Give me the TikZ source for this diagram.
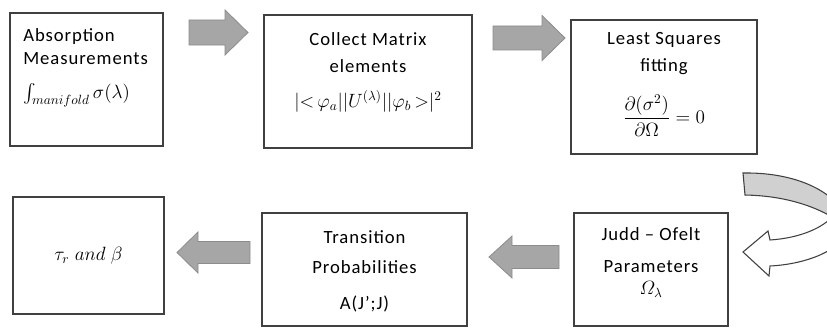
\documentclass[tikz,border=0pt]{standalone}
\usepackage{amsmath}
\usepackage{amssymb}
\usepackage{fontspec}
\setmainfont{Carlito}[LetterSpace=5]
\usepackage{tikz}
\usepackage{xcolor}
\usetikzlibrary{calc}
\definecolor{boxline}{HTML}{404040}
\definecolor{arrowgray}{HTML}{A6A6A6}
\definecolor{arrowedge}{HTML}{8C8C8C}
\definecolor{turngray}{HTML}{D0D0D0}

% box contents: width, height, top padding, text
\newcommand{\boxtext}[4]{\parbox[c][#2][t]{#1}{\vspace*{#3}#4}}

% block arrow: start, tip, half shaft, half head, head length
\newcommand{\blockarrow}[5]{%
  \coordinate (hb) at ($(#2)!#5!(#1)$);
  \draw[blockarr] ($(#1)!#3!90:(#2)$) -- ($(hb)!#3!90:(#2)$) -- ($(hb)!#4!90:(#2)$) -- (#2)
    -- ($(hb)!#4!-90:(#2)$) -- ($(hb)!#3!-90:(#2)$) -- ($(#1)!#3!-90:(#2)$) -- cycle;
}

\begin{document}
\begin{tikzpicture}[x=0.75pt, y=-0.75pt,
  box/.style={draw=boxline, line width=1pt, inner sep=0pt},
  blockarr/.style={fill=arrowgray, draw=arrowedge, line width=0.6pt},
  uturn/.style={draw=boxline, line width=0.8pt}
]
\useasboundingbox (0,0) rectangle (827,328);

% top row
\node[box] (absorb) at (86.5,79.5) {\boxtext{114.75pt}{99.75pt}{12pt}{%
  \fontsize{14}{17.25}\selectfont\raggedright\leftskip=10pt
  Absorption\\Measurements\\[8pt]$\int_{manifold}\sigma(\lambda)$}};
\node[box] (collect) at (368,81.5) {\boxtext{156pt}{99.75pt}{13pt}{%
  \fontsize{14}{20.25}\selectfont\centering
  Collect Matrix\\elements\\[6pt]$|{<}\,\varphi_a||U^{(\lambda)}||\varphi_b\,{>}|^2$}};
\node[box] (lsq) at (664,87) {\boxtext{139.5pt}{100.5pt}{9.25pt}{%
  \fontsize{14}{20.25}\selectfont\centering
  Least Squares\\fitting\\[14pt]$\dfrac{\partial(\sigma^2)}{\partial\Omega}=0$}};

% bottom row
\node[box] (judd) at (651,269.5) {\boxtext{115.5pt}{84.75pt}{10.75pt}{%
  \fontsize{14}{24}\selectfont\centering
  Judd -- Ofelt\\Parameters\\[-7pt]$\varOmega_\lambda$}};
\node[box] (trans) at (364.5,269.5) {\boxtext{153.75pt}{84.75pt}{13.4pt}{%
  \fontsize{14}{22}\selectfont\centering
  Transition\\Probabilities\\[5pt]A(J’;J)}};
\node[box, minimum width=113.25pt, minimum height=87.75pt, font=\fontsize{14}{17}\selectfont] (result) at (88.5,255.5)
  {$\tau_r\;and\;\beta$};

% block arrows
\coordinate (a1s) at (189,32.5);
\coordinate (a1e) at (248,32.5);
\coordinate (a2s) at (493,38);
\coordinate (a2e) at (565,38);
\coordinate (a3s) at (559,257);
\coordinate (a3e) at (489,257);
\coordinate (a4s) at (250,252.5);
\coordinate (a4e) at (177,252.5);
\blockarrow{a1s}{a1e}{9.4pt}{16.9pt}{17.25pt}
\blockarrow{a2s}{a2e}{9pt}{16.9pt}{17.25pt}
\blockarrow{a3s}{a3e}{8.6pt}{15.75pt}{17.25pt}
\blockarrow{a4s}{a4e}{8.25pt}{15.4pt}{15.75pt}

% u-turn arrow from lsq down to judd
\begin{scope}
  \clip (0,0) rectangle (827,328);
  \draw[uturn, fill=turngray] (743,173) .. controls (800,172) and (845,195) .. (850,230)
    .. controls (830,212) and (795,196) .. (745,195) -- cycle;
  \draw[uturn, fill=white] (850,230) .. controls (840,250) and (808,264) .. (770,266)
    -- (769,276) -- (743,252) -- (768,231) -- (770,240)
    .. controls (800,238) and (823,228) .. (834,215) -- cycle;
\end{scope}
\end{tikzpicture}
\end{document}
